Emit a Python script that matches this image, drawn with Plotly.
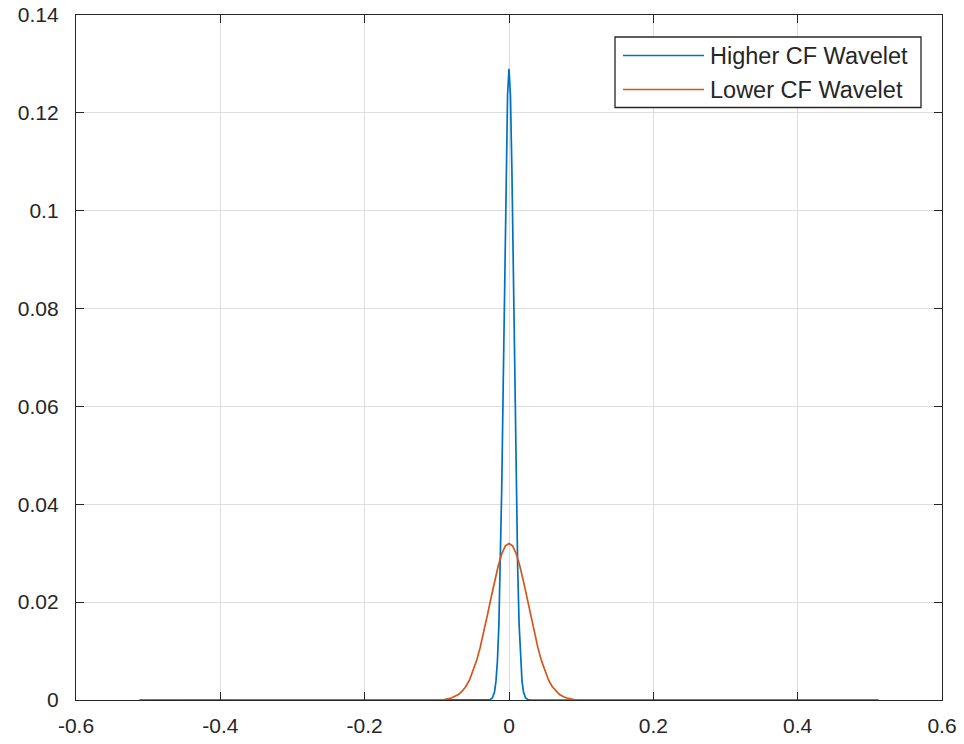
import plotly.graph_objects as go

# Higher CF wavelet (blue)
x_high = [-0.512, -0.030, -0.026, -0.023, -0.020, -0.018, -0.016, -0.014, -0.012, -0.010,
          -0.008, -0.006, -0.004, -0.002, 0.0, 0.002, 0.004, 0.006, 0.008, 0.010,
          0.012, 0.014, 0.016, 0.018, 0.020, 0.023, 0.026, 0.030, 0.512]
y_high = [0.0, 0.0, 0.0001, 0.0004, 0.0017, 0.0039, 0.0081, 0.0155, 0.0272, 0.0438,
          0.0646, 0.0874, 0.1085, 0.1236, 0.129, 0.1236, 0.1085, 0.0874, 0.0646, 0.0438,
          0.0272, 0.0155, 0.0081, 0.0039, 0.0017, 0.0004, 0.0001, 0.0, 0.0]

# Lower CF wavelet (orange)
x_low = [-0.512, -0.100, -0.090, -0.080, -0.075, -0.070, -0.065, -0.060, -0.055, -0.050,
         -0.045, -0.040, -0.035, -0.030, -0.025, -0.020, -0.015, -0.010, -0.005, 0.0,
         0.005, 0.010, 0.015, 0.020, 0.025, 0.030, 0.035, 0.040, 0.045, 0.050,
         0.055, 0.060, 0.065, 0.070, 0.075, 0.080, 0.090, 0.100, 0.512]
y_low = [0.0, 0.0, 0.0001, 0.0004, 0.0007, 0.0011, 0.0018, 0.0027, 0.0040, 0.0058,
         0.0080, 0.0107, 0.0138, 0.0173, 0.0208, 0.0243, 0.0274, 0.0299, 0.0315, 0.0320,
         0.0315, 0.0299, 0.0274, 0.0243, 0.0208, 0.0173, 0.0138, 0.0107, 0.0080, 0.0058,
         0.0040, 0.0027, 0.0018, 0.0011, 0.0007, 0.0004, 0.0001, 0.0, 0.0]

series_names = ["Higher CF Wavelet", "Lower CF Wavelet"]
x_ticks = [-0.6, -0.4, -0.2, 0, 0.2, 0.4, 0.6]
x_tick_text = ["-0.6", "-0.4", "-0.2", "0", "0.2", "0.4", "0.6"]
y_ticks = [0, 0.02, 0.04, 0.06, 0.08, 0.1, 0.12, 0.14]
y_tick_text = ["0", "0.02", "0.04", "0.06", "0.08", "0.1", "0.12", "0.14"]

BLUE = "#0072BD"
ORANGE = "#D95319"
AX = "#262626"
FONT = "Liberation Sans, Arial, Helvetica, sans-serif"

fig = go.Figure()
fig.add_trace(go.Scatter(x=x_high, y=y_high, mode="lines", name=series_names[0],
                         line=dict(color=BLUE, width=1.7), showlegend=False))
fig.add_trace(go.Scatter(x=x_low, y=y_low, mode="lines", name=series_names[1],
                         line=dict(color=ORANGE, width=1.7), showlegend=False))

axis_common = dict(showline=True, linecolor=AX, linewidth=1.3, mirror="ticks",
                   ticks="inside", ticklen=8, tickwidth=1.2, tickcolor=AX,
                   showgrid=True, gridcolor="#dedede", gridwidth=1,
                   zeroline=False, automargin=False,
                   tickfont=dict(family=FONT, size=21, color=AX))

fig.update_xaxes(range=[-0.6, 0.6], tickvals=x_ticks, ticktext=x_tick_text,
                 ticklabelstandoff=7, **axis_common)
fig.update_yaxes(range=[0, 0.14], tickvals=y_ticks, ticktext=y_tick_text,
                 ticklabelstandoff=12, **axis_common)

# Manual legend (MATLAB style)
W, H = 866, 685
def px(xp):
    return (xp - 76) / W
def py(yp):
    return (700.5 - yp) / H

fig.add_shape(type="rect", xref="paper", yref="paper",
              x0=px(615), x1=px(921), y0=py(108), y1=py(37.5),
              line=dict(color=AX, width=1.3), fillcolor="white", layer="above")
for i, (name, col) in enumerate(zip(series_names, [BLUE, ORANGE])):
    yy = py(56 + i * 34)
    fig.add_shape(type="line", xref="paper", yref="paper",
                  x0=px(623), x1=px(704), y0=yy, y1=yy,
                  line=dict(color=col, width=1.7), layer="above")
    fig.add_annotation(xref="paper", yref="paper", x=px(708), y=yy,
                       text=name, showarrow=False, xanchor="left", yanchor="middle",
                       font=dict(family=FONT, size=23.5, color=AX))

fig.update_layout(width=964, height=744, plot_bgcolor="white", paper_bgcolor="white",
                  margin=dict(l=76, r=22, t=15, b=44, autoexpand=False), showlegend=False)

post = ("document.documentElement.style.margin='0';"
        "document.body.style.margin='0';document.body.style.overflow='hidden';"
        "var d=document.getElementById('{plot_id}');"
        "d.style.position='fixed';d.style.top='0px';d.style.left='0px';")

fig.write_html("out.html", config={"displayModeBar": False}, post_script=post)
